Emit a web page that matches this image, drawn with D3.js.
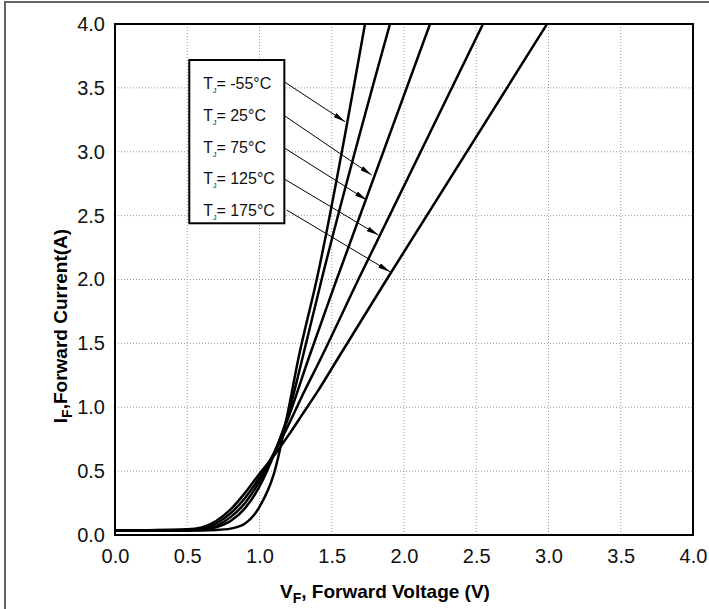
<!DOCTYPE html>
<html>
<head>
<meta charset="utf-8">
<style>
    body { margin: 0; background: #fff; }
    svg { display: block; font-family: Arial, 'Liberation Sans', sans-serif; }
</style>
</head>
<body>
<svg width="709" height="609"></svg>

<script src="https://d3js.org/d3.v7.min.js"></script>
<script>
    // tick values on both axes
    const xTicks = [0, 0.5, 1.0, 1.5, 2.0, 2.5, 3.0, 3.5, 4.0];
    const yTicks = [0, 0.5, 1.0, 1.5, 2.0, 2.5, 3.0, 3.5, 4.0];

    // legend labels (junction temperatures)
    const temps = ["-55", "25", "75", "125", "175"];

    // forward curves, [V, A]
    const curveM55 = [[0, 0.035], [0.5, 0.035], [0.7, 0.04], [0.8, 0.05], [0.9, 0.09], [1.0, 0.22], [1.1, 0.48], [1.2, 0.98], [1.267, 1.37], [1.396, 2.0], [1.73, 4.0]];
    const curve25 = [[0, 0.035], [0.5, 0.036], [0.6, 0.042], [0.7, 0.06], [0.8, 0.11], [0.9, 0.21], [1.0, 0.38], [1.1, 0.63], [1.2, 0.95], [1.294, 1.37], [1.43, 2.0], [1.903, 4.0]];
    const curve75 = [[0, 0.035], [0.5, 0.037], [0.6, 0.045], [0.7, 0.07], [0.8, 0.14], [0.9, 0.25], [1.0, 0.42], [1.1, 0.64], [1.2, 0.92], [1.336, 1.37], [1.534, 2.0], [2.18, 4.0]];
    const curve125 = [[0, 0.035], [0.5, 0.04], [0.6, 0.05], [0.7, 0.09], [0.8, 0.17], [0.9, 0.29], [1.0, 0.45], [1.1, 0.64], [1.2, 0.86], [1.3, 1.1], [1.419, 1.37], [1.684, 2.0], [2.547, 4.0]];
    const curve175 = [[0, 0.035], [0.5, 0.045], [0.6, 0.06], [0.7, 0.11], [0.8, 0.2], [0.9, 0.33], [1.0, 0.48], [1.1, 0.62], [1.2, 0.78], [1.3, 0.95], [1.4, 1.12], [1.536, 1.37], [1.88, 2.0], [2.99, 4.0]];

    // arrows from the legend to the curves, in data units [x1, y1, x2, y2]
    const arrows = [
        [1.176, 3.544, 1.592, 3.235],
        [1.165, 3.288, 1.776, 2.818],
        [1.176, 3.027, 1.742, 2.622],
        [1.176, 2.784, 1.822, 2.348],
        [1.188, 2.544, 1.903, 2.061]
    ];

    let margin = { top: 24, right: 16, bottom: 74, left: 115 };
    let width = 709 - margin.left - margin.right;
    let height = 609 - margin.top - margin.bottom;

    let svg = d3.select("svg");

    // outer frame of the figure
    svg.append("rect")
        .attr("x", 5).attr("y", 2)
        .attr("width", 720).attr("height", 620)
        .style("fill", "none")
        .style("stroke", "#666")
        .style("stroke-width", 2);

    let g = svg.append("g")
        .attr("transform", `translate(${margin.left},${margin.top})`);

    let x = d3.scaleLinear().domain([0, 4]).range([0, width]);
    let y = d3.scaleLinear().domain([0, 4]).range([height, 0]);

    // dotted grid
    g.selectAll(".vgrid")
        .data(xTicks.slice(1, -1))
        .join("line")
        .attr("x1", d => x(d)).attr("x2", d => x(d))
        .attr("y1", 0).attr("y2", height)
        .style("stroke", "#999")
        .style("stroke-width", 1)
        .style("stroke-dasharray", "1,2");

    g.selectAll(".hgrid")
        .data(yTicks.slice(1, -1))
        .join("line")
        .attr("x1", 0).attr("x2", width)
        .attr("y1", d => y(d)).attr("y2", d => y(d))
        .style("stroke", "#999")
        .style("stroke-width", 1)
        .style("stroke-dasharray", "1,2");

    // tick labels
    let xAxis = d3.axisBottom(x).tickValues(xTicks).tickFormat(d3.format(".1f")).tickSize(0).tickPadding(14);
    let yAxis = d3.axisLeft(y).tickValues(yTicks).tickFormat(d3.format(".1f")).tickSize(0).tickPadding(10);

    g.append("g")
        .attr("transform", `translate(0,${height})`)
        .call(xAxis)
        .call(a => a.select(".domain").remove())
        .selectAll("text")
        .style("font-size", "20px")
        .style("fill", "#111");

    g.append("g")
        .call(yAxis)
        .call(a => a.select(".domain").remove())
        .selectAll("text")
        .style("font-size", "20px")
        .style("fill", "#111");

    // curves
    g.append("clipPath").attr("id", "clip")
        .append("rect").attr("width", width).attr("height", height);

    let line = d3.line()
        .x(d => x(d[0]))
        .y(d => y(d[1]))
        .curve(d3.curveMonotoneX);

    g.append("g")
        .attr("clip-path", "url(#clip)")
        .selectAll("path")
        .data([curveM55, curve25, curve75, curve125, curve175])
        .join("path")
        .attr("d", line)
        .style("fill", "none")
        .style("stroke", "#000")
        .style("stroke-width", 2.5);

    // plot frame
    g.append("rect")
        .attr("width", width).attr("height", height)
        .style("fill", "none")
        .style("stroke", "#000")
        .style("stroke-width", 2);

    // arrowhead
    svg.append("defs").append("marker")
        .attr("id", "head")
        .attr("viewBox", "0 0 12 5")
        .attr("refX", 12).attr("refY", 2.5)
        .attr("markerWidth", 12).attr("markerHeight", 5)
        .attr("markerUnits", "userSpaceOnUse")
        .attr("orient", "auto")
        .append("path")
        .attr("d", "M0,0L12,2.5L0,5Z")
        .style("fill", "#000");

    g.selectAll(".arrow")
        .data(arrows)
        .join("line")
        .attr("x1", d => x(d[0])).attr("y1", d => y(d[1]))
        .attr("x2", d => x(d[2])).attr("y2", d => y(d[3]))
        .style("stroke", "#000")
        .style("stroke-width", 1)
        .attr("marker-end", "url(#head)");

    // legend box
    g.append("rect")
        .attr("x", x(0.514)).attr("y", y(3.718))
        .attr("width", x(1.172) - x(0.514))
        .attr("height", y(2.44) - y(3.718))
        .style("fill", "#fff")
        .style("stroke", "#000")
        .style("stroke-width", 2);

    let labels = g.selectAll(".leg")
        .data(temps)
        .join("text")
        .attr("x", x(0.61))
        .attr("y", (d, i) => y(3.49) + i * 31.7)
        .style("font-size", "16px")
        .style("fill", "#111");

    labels.append("tspan").text("T");
    labels.append("tspan").attr("dy", 4).style("font-size", "7px").text("J");
    labels.append("tspan").attr("dy", -4).text(d => "= " + d + "\u00B0C");

    // axis titles
    let xTitle = svg.append("text")
        .attr("x", 385).attr("y", 598)
        .attr("text-anchor", "middle")
        .style("font-size", "19px")
        .style("font-weight", "bold");
    xTitle.append("tspan").text("V");
    xTitle.append("tspan").attr("dy", 5).style("font-size", "14px").text("F");
    xTitle.append("tspan").attr("dy", -5).text(", Forward Voltage (V)");

    let yTitle = svg.append("text")
        .attr("transform", "translate(67,326) rotate(-90)")
        .attr("text-anchor", "middle")
        .style("font-size", "19px")
        .style("font-weight", "bold");
    yTitle.append("tspan").text("I");
    yTitle.append("tspan").attr("dy", 5).style("font-size", "14px").text("F");
    yTitle.append("tspan").attr("dy", -5).text(",Forward Current(A)");
</script>
</body>
</html>
